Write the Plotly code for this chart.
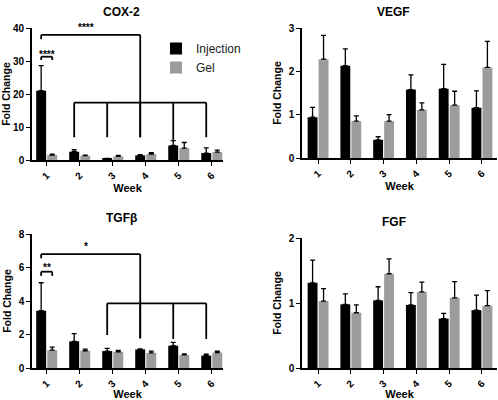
import plotly.graph_objects as go

weeks = [1, 2, 3, 4, 5, 6]
week_labels = ["1", "2", "3", "4", "5", "6"]

cox2_inj = [21.0, 2.5, 0.35, 1.4, 4.4, 2.1]
cox2_inj_err = [7.6, 0.6, 0.15, 0.2, 1.5, 1.6]
cox2_gel = [1.5, 1.3, 1.1, 1.8, 3.6, 2.4]
cox2_gel_err = [0.3, 0.2, 0.3, 0.4, 1.7, 0.6]

vegf_inj = [0.94, 2.13, 0.42, 1.58, 1.60, 1.16]
vegf_inj_err = [0.23, 0.39, 0.07, 0.34, 0.56, 0.39]
vegf_gel = [2.28, 0.85, 0.85, 1.11, 1.22, 2.09]
vegf_gel_err = [0.55, 0.12, 0.15, 0.16, 0.32, 0.60]

tgf_inj = [3.42, 1.59, 1.01, 1.11, 1.33, 0.74]
tgf_inj_err = [1.67, 0.46, 0.16, 0.03, 0.20, 0.08]
tgf_gel = [1.07, 1.03, 0.97, 0.90, 0.78, 0.92]
tgf_gel_err = [0.18, 0.10, 0.08, 0.11, 0.06, 0.08]

fgf_inj = [1.31, 0.98, 1.04, 0.97, 0.76, 0.89]
fgf_inj_err = [0.35, 0.16, 0.21, 0.19, 0.08, 0.23]
fgf_gel = [1.03, 0.85, 1.45, 1.17, 1.08, 0.96]
fgf_gel_err = [0.19, 0.12, 0.23, 0.15, 0.25, 0.23]

# significance brackets (data units)
cox2_pair = {"week": 1, "y": 31.3, "drop": 1.0, "label": "****", "label_y": 33.0}
cox2_main = {"from": 1, "to": 4, "y": 37.9, "left_bottom": 36.6, "right_bottom": 6.9,
             "label": "****", "label_x": 2.2, "label_y": 41.0}
cox2_group = {"weeks": [2, 3, 4, 5, 6], "y": 17.4, "bottoms": [6.9, 6.9, 6.9, 6.1, 6.9]}

tgf_pair = {"week": 1, "y": 5.75, "drop": 0.25, "label": "**", "label_y": 6.15}
tgf_main = {"from": 1, "to": 4, "y": 6.8, "left_bottom": 6.55, "right_bottom": 1.77,
            "label": "*", "label_x": 2.2, "label_y": 7.45}
tgf_group = {"weeks": [3, 4, 5, 6], "y": 3.86, "bottoms": [1.97, 1.77, 1.73, 1.73]}

INJ = "#000000"
GEL = "#9c9c9c"
FONT = "Liberation Sans"
OFF = 0.1675  # offset of bar centres from the week tick

panels = [
    ("COX-2", cox2_inj, cox2_inj_err, cox2_gel, cox2_gel_err, 1, [32, 223], [28, 160], [0, 40], 10, [0.555, 6.34]),
    ("VEGF", vegf_inj, vegf_inj_err, vegf_gel, vegf_gel_err, 2, [302, 497], [28, 158], [0, 3], 1, [0.51, 6.46]),
    ("TGFβ", tgf_inj, tgf_inj_err, tgf_gel, tgf_gel_err, 3, [32, 223], [234, 368], [0, 8], 2, [0.555, 6.34]),
    ("FGF", fgf_inj, fgf_inj_err, fgf_gel, fgf_gel_err, 4, [302, 497], [238, 368], [0, 2], 1, [0.51, 6.46]),
]

W, H = 498, 400
fig = go.Figure()
annotations = []
shapes = []

def px_x(v):
    return v / W

def px_y(v):
    return 1 - v / H

for name, inj, inj_err, gel, gel_err, k, xd, yd, yr, dt, xr in panels:
    xa = "x" if k == 1 else f"x{k}"
    ya = "y" if k == 1 else f"y{k}"
    eb = dict(type="data", symmetric=False, arrayminus=[0] * 6, color="#000000", thickness=1.3, width=2.5)
    fig.add_trace(go.Bar(x=weeks, y=inj, name="Injection", marker_color=INJ, marker_line_width=0,
                         error_y=dict(eb, array=inj_err), xaxis=xa, yaxis=ya,
                         showlegend=(k == 1), legendgroup="inj"))
    fig.add_trace(go.Bar(x=weeks, y=gel, name="Gel", marker_color=GEL, marker_line_width=0,
                         error_y=dict(eb, array=gel_err), xaxis=xa, yaxis=ya,
                         showlegend=(k == 1), legendgroup="gel"))
    axkey_x = "xaxis" if k == 1 else f"xaxis{k}"
    axkey_y = "yaxis" if k == 1 else f"yaxis{k}"
    fig.update_layout(**{
        axkey_x: dict(domain=[px_x(xd[0]), px_x(xd[1])], anchor=ya, range=xr, automargin=False,
                      tickvals=weeks, ticktext=week_labels, tickangle=-45,
                      showline=True, linecolor="black", linewidth=1.6, ticks="outside",
                      ticklen=4, tickwidth=1.4, tickcolor="black", showgrid=False, zeroline=False,
                      tickfont=dict(family=FONT, size=10, color="black", weight="bold"),
                      title=dict(text="Week", font=dict(family=FONT, size=11, color="black", weight="bold"),
                                 standoff=4)),
        axkey_y: dict(domain=[px_y(yd[1]), px_y(yd[0])], anchor=xa, range=yr, dtick=dt, automargin=False,
                      showline=True, linecolor="black", linewidth=1.6, ticks="outside",
                      ticklen=4, tickwidth=1.4, tickcolor="black", showgrid=False, zeroline=False,
                      tickfont=dict(family=FONT, size=10, color="black", weight="bold"),
                      title=dict(text="Fold Change", font=dict(family=FONT, size=10.5, color="black", weight="bold"),
                                 standoff=5)),
    })
    annotations.append(dict(text=name, xref="paper", yref="paper",
                            x=px_x((xd[0] + xd[1]) / 2 - 6), y=px_y(yd[0] - 16),
                            showarrow=False, xanchor="center", yanchor="middle",
                            font=dict(family=FONT, size=12, color="black", weight="bold")))

LW = 1.8

def seg(xa, ya, x0, y0, x1, y1):
    shapes.append(dict(type="line", xref=xa, yref=ya, x0=x0, y0=y0, x1=x1, y1=y1,
                       line=dict(color="black", width=LW)))

def star_label(xa, ya, text, x, y, ymax):
    # keep the anchor inside the axis range, shift the rest in pixels
    yy = min(y, ymax * 0.999)
    annotations.append(dict(text=text, xref=xa, yref=ya, x=x, y=yy,
                            showarrow=False, yanchor="middle",
                            font=dict(family=FONT, size=10, color="black", weight="bold")))
    return annotations[-1]

def add_brackets(xa, ya, pair, main, group, ymax, px_per_unit):
    xl = pair["week"] - OFF
    xr = pair["week"] + OFF
    seg(xa, ya, xl, pair["y"], xr, pair["y"])
    seg(xa, ya, xl, pair["y"], xl, pair["y"] - pair["drop"])
    seg(xa, ya, xr, pair["y"], xr, pair["y"] - pair["drop"])
    a = star_label(xa, ya, pair["label"], pair["week"], pair["label_y"], ymax)
    a["yshift"] = -3
    x0 = main["from"] - OFF
    x1 = main["to"] - OFF
    seg(xa, ya, x0, main["y"], x1, main["y"])
    seg(xa, ya, x0, main["y"], x0, main["left_bottom"])
    seg(xa, ya, x1, main["y"], x1, main["right_bottom"])
    a = star_label(xa, ya, main["label"], main["label_x"], main["label_y"], ymax)
    a["yshift"] = (main["label_y"] - a["y"]) * px_per_unit - 3
    gx = [w - OFF for w in group["weeks"]]
    seg(xa, ya, gx[0], group["y"], gx[-1], group["y"])
    for x, b in zip(gx, group["bottoms"]):
        seg(xa, ya, x, group["y"], x, b)

add_brackets("x", "y", cox2_pair, cox2_main, cox2_group, 40, 132 / 40)
add_brackets("x3", "y3", tgf_pair, tgf_main, tgf_group, 8, 134 / 8)

fig.update_layout(
    template="none",
    width=W, height=H, margin=dict(l=0, r=0, t=0, b=0, autoexpand=False),
    paper_bgcolor="white", plot_bgcolor="white",
    barmode="group", bargap=0.33, bargroupgap=0.1,
    shapes=shapes, annotations=annotations,
    legend=dict(x=px_x(156), y=px_y(34), xanchor="left", yanchor="top",
                bgcolor="rgba(0,0,0,0)", borderwidth=0,
                font=dict(family=FONT, size=12, color="#222222"), tracegroupgap=0),
)

fig.write_html("out.html", config={"displayModeBar": False},
               post_script="document.body.style.margin='0';")
